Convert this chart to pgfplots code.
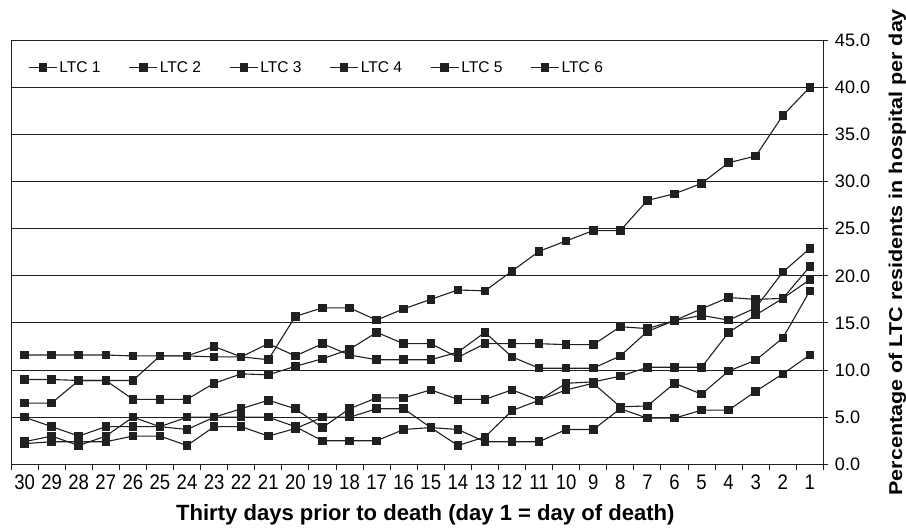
\documentclass[border=0pt]{standalone}
\usepackage{pgfplots}
\usepackage{pgfplotstable}
\pgfplotsset{compat=1.18}
\usepackage{fontspec}
\setmainfont{Liberation Sans}
\definecolor{ink}{RGB}{35,31,32}
\pgfplotsset{ltc/.style={ink, solid, line width=1.1pt, mark=square*, mark size=3.7pt, mark options={solid, fill=ink, draw=ink},
  legend image code/.code={\draw[mark repeat=2,mark phase=2,##1] plot coordinates {(0pt,0pt) (14pt,0pt) (28pt,0pt)};}}}

\pgfplotstableread{
day a b c d e f
30 11.6 9.0 6.5 2.4 5.0 2.2
29 11.6 9.0 6.5 3.0 4.0 2.4
28 11.6 8.9 8.9 2.0 3.0 2.4
27 11.6 8.9 8.9 3.0 4.0 2.4
26 11.5 8.9 6.9 5.0 4.0 3.0
25 11.5 11.5 6.9 4.0 4.0 3.0
24 11.5 11.5 6.9 5.0 3.7 2.0
23 11.4 12.5 8.6 5.0 5.0 4.0
22 11.4 11.4 9.6 5.9 5.0 4.0
21 11.1 12.8 9.5 6.8 5.0 3.0
20 15.7 11.5 10.4 5.9 4.0 3.8
19 16.6 12.8 11.2 3.9 2.5 5.0
18 16.6 11.6 12.2 5.9 2.5 5.0
17 15.3 11.1 14.0 7.05 2.5 5.9
16 16.5 11.1 12.8 7.05 3.7 5.9
15 17.5 11.1 12.8 7.9 3.9 3.9
14 18.5 11.9 11.35 6.9 2.0 3.7
13 18.4 14.0 12.8 6.9 2.9 2.4
12 20.5 11.4 12.8 7.9 5.7 2.4
11 22.6 10.2 12.8 6.8 6.8 2.4
10 23.7 10.2 12.7 8.6 7.9 3.7
9 24.8 10.2 12.7 8.75 8.6 3.7
8 24.8 11.5 14.6 9.35 6.1 5.9
7 28.0 14.1 14.4 10.3 6.2 4.9
6 28.7 15.25 15.25 10.3 8.6 4.9
5 29.8 15.8 16.5 10.3 7.45 5.75
4 32.0 15.3 17.7 14.0 9.9 5.75
3 32.7 16.6 17.5 15.85 11.05 7.75
2 37.0 20.4 17.6 17.6 13.4 9.6
1 40.0 22.9 19.6 21.0 18.4 11.6
}\data

\begin{document}
\begin{tikzpicture}
\begin{axis}[
  scale only axis, width=810pt, height=423pt,
  xmin=0.5, xmax=30.5, x dir=reverse,
  ymin=0, ymax=45,
  axis line style={ink, line width=0.9pt},
  xtick={1,...,30},
  minor xtick={0.5,1.5,...,30.5},
  xtick pos=left, ytick pos=right,
  yticklabel pos=right,
  tick align=outside,
  major x tick style={draw=none},
  minor tick length=6pt, major tick length=5pt,
  every tick/.style={ink, line width=0.9pt},
  ytick={0,5,...,45},
  ymajorgrids, grid style={ink, line width=0.9pt},
  /pgf/number format/assume math mode=true,
  yticklabel shift=3pt,
  xticklabel shift=2pt,
  yticklabel style={font=\fontsize{18}{18}\selectfont, /pgf/number format/.cd, fixed, fixed zerofill, precision=1},
  xticklabel={\scalebox{0.88}[1]{\pgfmathprintnumber{\tick}}},
  xticklabel style={font=\fontsize{21}{21}\selectfont},
  xlabel={Thirty days prior to death (day 1 = day of death)},
  xlabel style={font=\bfseries\fontsize{22}{22}\selectfont, at={(ticklabel cs:0.51)}, anchor=near ticklabel, yshift=-8pt},
  ylabel={\scalebox{1.16}[1]{Percentage of LTC residents in hospital per day}},
  ylabel style={font=\bfseries\fontsize{18.5}{18.5}\selectfont, at={(axis description cs:1.08,0.5)}, anchor=north, inner sep=0pt},
  legend style={at={(axis description cs:0,1)}, anchor=north west, xshift=14pt, yshift=-17pt, draw=none, fill=none, font=\fontsize{15.5}{15.5}\selectfont, /tikz/every even column/.append style={column sep=26pt}},
  legend columns=6,
]
\addplot[ltc] table[x=day, y=d] {\data};
\addplot[ltc] table[x=day, y=e] {\data};
\addplot[ltc] table[x=day, y=f] {\data};
\addplot[ltc] table[x=day, y=b] {\data};
\addplot[ltc] table[x=day, y=c] {\data};
\addplot[ltc] table[x=day, y=a] {\data};
\legend{LTC 1, LTC 2, LTC 3, LTC 4, LTC 5, LTC 6}
\end{axis}
\path (current axis.south west) ++(-11pt,0) coordinate (bbl);
\path (current axis.north east) ++(0,40pt) coordinate (bbt);
\end{tikzpicture}
\end{document}
